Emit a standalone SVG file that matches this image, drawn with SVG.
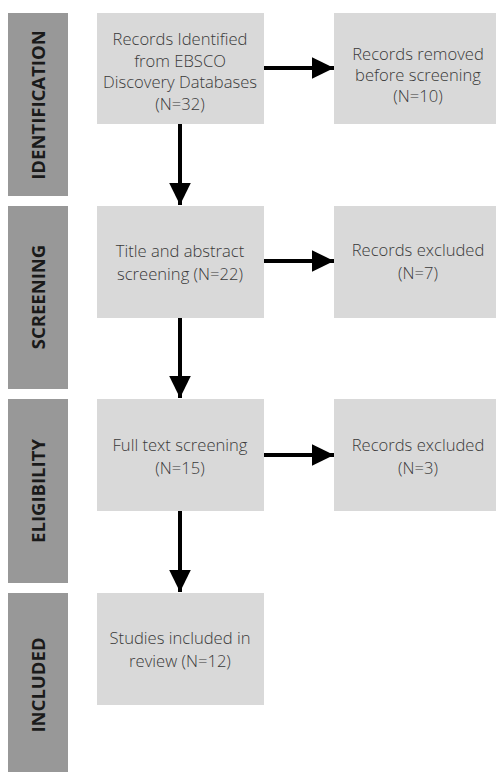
<svg xmlns="http://www.w3.org/2000/svg" width="496" height="772" viewBox="0 0 496 772">
<style>
.bar{fill:#989898}
.box{fill:#d9d9d9}
.lbl{font-family:"Open Sans","Noto Sans",sans-serif;font-weight:700;font-size:18.5px;fill:#1a1a1a;text-anchor:middle}
.t{font-family:"Open Sans","Noto Sans",sans-serif;font-weight:300;font-size:16.6px;fill:#3a3a3a;text-anchor:middle}
.c{stroke:#000;stroke-width:4;fill:none}
</style>
<defs>
<marker id="ah" markerWidth="5.5" markerHeight="5.4" viewBox="0 0 5.5 5.4" refX="5.5" refY="2.7" orient="auto" markerUnits="strokeWidth">
<path d="M0,0 L5.5,2.7 L0,5.4 Z" fill="#000"/>
</marker>
</defs>
<g id="phase-identification"><rect class="bar" x="8" y="13" width="60" height="183"/><text class="lbl" transform="translate(45,105) rotate(-90)">IDENTIFICATION</text></g>
<g id="phase-screening"><rect class="bar" x="8" y="206" width="60" height="183"/><text class="lbl" transform="translate(45,297) rotate(-90)">SCREENING</text></g>
<g id="phase-eligibility"><rect class="bar" x="8" y="399" width="60" height="184"/><text class="lbl" transform="translate(45,491) rotate(-90)">ELIGIBILITY</text></g>
<g id="phase-included"><rect class="bar" x="8" y="593" width="60" height="179"/><text class="lbl" transform="translate(45,685) rotate(-90)">INCLUDED</text></g>

<g id="n1"><rect class="box" x="97" y="13" width="167" height="111"/>
<text class="t" x="180" y="45">Records Identified</text>
<text class="t" x="180" y="67">from EBSCO</text>
<text class="t" x="180" y="88">Discovery Databases</text>
<text class="t" x="180" y="110">(N=32)</text></g>
<g id="n1x"><rect class="box" x="334" y="13" width="162" height="111"/>
<text class="t" x="418" y="60">Records removed</text>
<text class="t" x="418" y="81">before screening</text>
<text class="t" x="418" y="102">(N=10)</text></g>

<g id="n2"><rect class="box" x="97" y="206" width="167" height="112"/>
<text class="t" x="180" y="257">Title and abstract</text>
<text class="t" x="180" y="280">screening (N=22)</text></g>
<g id="n2x"><rect class="box" x="334" y="206" width="162" height="112"/>
<text class="t" x="418" y="256">Records excluded</text>
<text class="t" x="418" y="279">(N=7)</text></g>

<g id="n3"><rect class="box" x="97" y="399" width="167" height="112"/>
<text class="t" x="180" y="451">Full text screening</text>
<text class="t" x="180" y="474">(N=15)</text></g>
<g id="n3x"><rect class="box" x="334" y="399" width="162" height="112"/>
<text class="t" x="418" y="451">Records excluded</text>
<text class="t" x="418" y="474">(N=3)</text></g>

<g id="n4"><rect class="box" x="97" y="593" width="167" height="112"/>
<text class="t" x="180" y="644">Studies included in</text>
<text class="t" x="180" y="667">review (N=12)</text></g>

<g id="connectors">
<line class="c" x1="180" y1="124" x2="180" y2="205" marker-end="url(#ah)"/>
<line class="c" x1="180" y1="318" x2="180" y2="398" marker-end="url(#ah)"/>
<line class="c" x1="180" y1="511" x2="180" y2="592" marker-end="url(#ah)"/>
<line class="c" x1="264" y1="68" x2="334" y2="68" marker-end="url(#ah)"/>
<line class="c" x1="264" y1="261" x2="334" y2="261" marker-end="url(#ah)"/>
<line class="c" x1="264" y1="455" x2="334" y2="455" marker-end="url(#ah)"/>
</g>
</svg>
